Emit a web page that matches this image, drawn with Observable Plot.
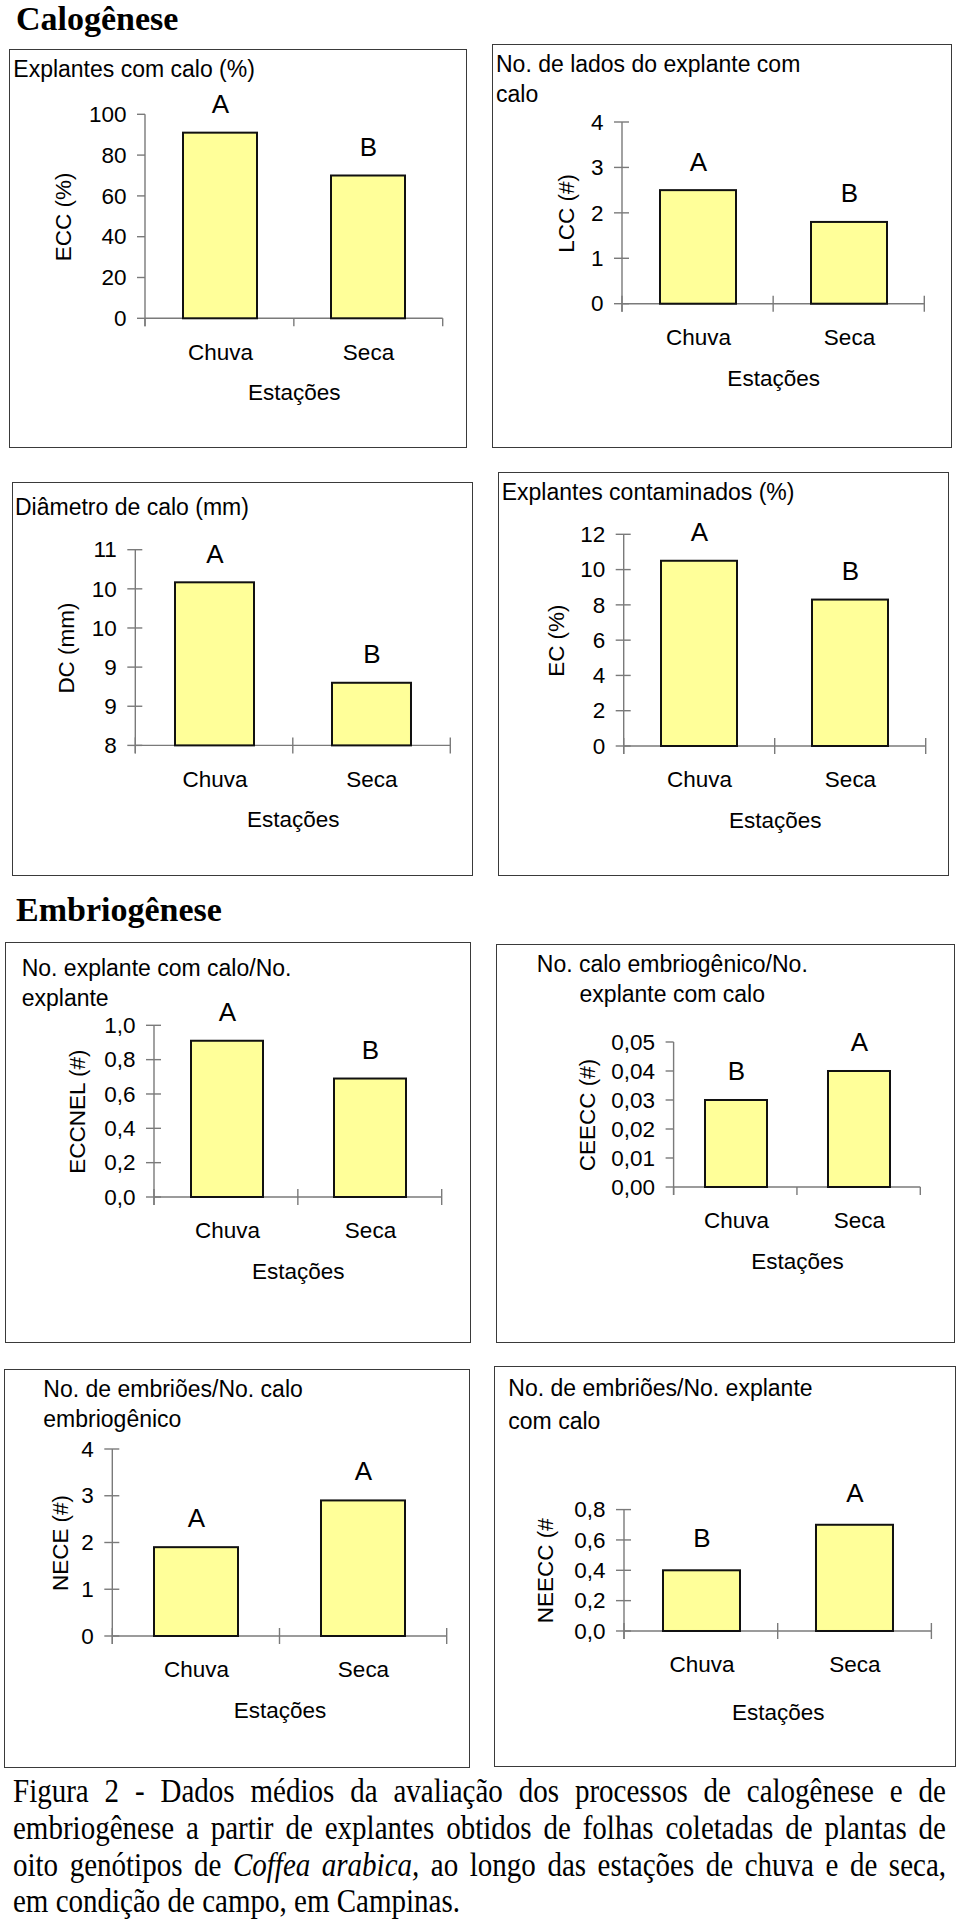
<!DOCTYPE html>
<html><head><meta charset="utf-8">
<script src="https://cdn.jsdelivr.net/npm/d3@7"></script>
<script src="https://cdn.jsdelivr.net/npm/@observablehq/plot@0.6"></script>
<style>
html,body{margin:0;padding:0;background:#fff;}
#page{position:relative;width:960px;height:1920px;overflow:hidden;background:#fff;font-family:'Liberation Sans',Arial,sans-serif;}
.heading{position:absolute;left:16px;font-family:'Liberation Serif','Times New Roman',serif;font-weight:bold;font-size:34px;line-height:38px;white-space:nowrap;color:#000;}
.panel{position:absolute;box-sizing:border-box;outline:1.5px solid #3a3a3a;outline-offset:-1.5px;}
.panel svg{position:absolute;left:0;top:0;}
.ptitle{position:absolute;font-size:23px;line-height:30px;white-space:nowrap;color:#000;}
#caption{position:absolute;left:13px;top:1772.7px;width:933px;font-family:'Liberation Serif','Times New Roman',serif;font-size:29px;line-height:32.3px;color:#000;transform:scaleY(1.13);transform-origin:0 0;}
#caption .ln{white-space:nowrap;text-align:justify;text-align-last:justify;}
#caption .ln.last{text-align:left;text-align-last:left;}
</style></head><body><div id="page"></div>
<script>
// ---------- data ----------
const seasons = ["Chuva", "Seca"];
const xLabel = "Estações";
const sectionTitles = ["Calogênese", "Embriogênese"];

const eccTitle = ["Explantes com calo (%)"];
const eccLabel = "ECC (%)";
const eccValues = [91, 70];
const eccLetters = ["A", "B"];
const eccTicks = [0, 20, 40, 60, 80, 100];
const eccTickLabels = ["0", "20", "40", "60", "80", "100"];

const lccTitle = ["No. de lados do explante com", "calo"];
const lccLabel = "LCC (#)";
const lccValues = [2.5, 1.8];
const lccLetters = ["A", "B"];
const lccTicks = [0, 1, 2, 3, 4];
const lccTickLabels = ["0", "1", "2", "3", "4"];

const dcTitle = ["Diâmetro de calo (mm)"];
const dcLabel = "DC (mm)";
const dcValues = [10.5, 8.96];
const dcLetters = ["A", "B"];
const dcTicks = [8, 8.6, 9.2, 9.8, 10.4, 11];
const dcTickLabels = ["8", "9", "9", "10", "10", "11"];

const ecTitle = ["Explantes contaminados (%)"];
const ecLabel = "EC (%)";
const ecValues = [10.5, 8.3];
const ecLetters = ["A", "B"];
const ecTicks = [0, 2, 4, 6, 8, 10, 12];
const ecTickLabels = ["0", "2", "4", "6", "8", "10", "12"];

const ecnTitle = ["No. explante com calo/No.", "explante"];
const ecnLabel = "ECCNEL (#)";
const ecnValues = [0.91, 0.69];
const ecnLetters = ["A", "B"];
const ecnTicks = [0, 0.2, 0.4, 0.6, 0.8, 1.0];
const ecnTickLabels = ["0,0", "0,2", "0,4", "0,6", "0,8", "1,0"];

const ceeTitle = ["No. calo embriogênico/No.", "explante com calo"];
const ceeLabel = "CEECC (#)";
const ceeValues = [0.03, 0.04];
const ceeLetters = ["B", "A"];
const ceeTicks = [0, 0.01, 0.02, 0.03, 0.04, 0.05];
const ceeTickLabels = ["0,00", "0,01", "0,02", "0,03", "0,04", "0,05"];

const neceTitle = ["No. de embriões/No. calo", "embriogênico"];
const neceLabel = "NECE (#)";
const neceValues = [1.9, 2.9];
const neceLetters = ["A", "A"];
const neceTicks = [0, 1, 2, 3, 4];
const neceTickLabels = ["0", "1", "2", "3", "4"];

const neeTitle = ["No. de embriões/No. explante", "com calo"];
const neeLabel = "NEECC (#";
const neeValues = [0.4, 0.7];
const neeLetters = ["B", "A"];
const neeTicks = [0, 0.2, 0.4, 0.6, 0.8];
const neeTickLabels = ["0,0", "0,2", "0,4", "0,6", "0,8"];

const captionLines = [
  "Figura 2 - Dados médios da avaliação dos processos de calogênese e de",
  "embriogênese a partir de explantes obtidos de folhas coletadas de plantas de",
  ["oito genótipos de ", "Coffea arabica,", " ao longo das estações de chuva e de seca,"],
  "em condição de campo, em Campinas."
];

// ---------- layout ----------
const panels = [
  {title: eccTitle, ylabel: eccLabel, values: eccValues, letters: eccLetters, ticks: eccTicks, tickLabels: eccTickLabels,
   box: [9, 49, 467, 448], frame: [145, 114.3, 442.7, 318.3], tl: {left: 4.3, top: 5}, yDist: 82, letterDy: -28.3, cross: false, xlOff: 0},
  {title: lccTitle, ylabel: lccLabel, values: lccValues, letters: lccLetters, ticks: lccTicks, tickLabels: lccTickLabels,
   box: [491.7, 44.3, 951.7, 448.3], frame: [621.7, 122.3, 924, 304], tl: {left: 4.3, top: 4.7}, yDist: 56.7, letterDy: -28.3, cross: true, xlOff: 0},
  {title: dcTitle, ylabel: dcLabel, values: dcValues, letters: dcLetters, ticks: dcTicks, tickLabels: dcTickLabels,
   box: [11.7, 482.3, 473.3, 876], frame: [135, 550, 450, 745.7], tl: {left: 3.3, top: 9.7}, yDist: 70, letterDy: -28.3, cross: true, xlOff: 0},
  {title: ecTitle, ylabel: ecLabel, values: ecValues, letters: ecLetters, ticks: ecTicks, tickLabels: ecTickLabels,
   box: [498.3, 471.7, 949.3, 876], frame: [624, 534, 926, 745.7], tl: {left: 3.4, top: 5.3}, yDist: 68, letterDy: -28.8, cross: true, xlOff: 0},
  {title: ecnTitle, ylabel: ecnLabel, values: ecnValues, letters: ecnLetters, ticks: ecnTicks, tickLabels: ecnTickLabels,
   box: [5, 941.7, 471, 1342.7], frame: [154, 1025, 441.7, 1196.7], tl: {left: 16.7, top: 12.6, lh: 29.4}, yDist: 77.3, letterDy: -28.6, cross: true, xlOff: 0},
  {title: ceeTitle, ylabel: ceeLabel, values: ceeValues, letters: ceeLetters, ticks: ceeTicks, tickLabels: ceeTickLabels,
   box: [495.7, 944.3, 955, 1342.7], frame: [673.3, 1042.3, 920, 1187.3], tl: {center: 176.6, top: 4.4}, yDist: 87.3, letterDy: -28.8, cross: false, xlOff: 0},
  {title: neceTitle, ylabel: neceLabel, values: neceValues, letters: neceLetters, ticks: neceTicks, tickLabels: neceTickLabels,
   box: [4, 1369, 470, 1768.3], frame: [112.3, 1449, 446.7, 1636], tl: {left: 39.3, top: 4.7}, yDist: 52.3, letterDy: -28.8, cross: true, xlOff: 0},
  {title: neeTitle, ylabel: neeLabel, values: neeValues, letters: neeLetters, ticks: neeTicks, tickLabels: neeTickLabels,
   box: [494.3, 1365.7, 956, 1766.7], frame: [624.3, 1509.3, 931.7, 1630.7], tl: {left: 14, top: 6.3, lh: 33.3}, yDist: 79.3, letterDy: -32, cross: true, xlOff: 7}
];

const page = document.getElementById("page");

// section headings
[[sectionTitles[0], 0], [sectionTitles[1], 891]].forEach(([t, top]) => {
  const h = document.createElement("div");
  h.className = "heading";
  h.style.top = top + "px";
  h.textContent = t;
  page.appendChild(h);
});

function drawPanel(cfg) {
  const [bl, bt, br, bb] = cfg.box;
  const [fl, ft, fr, fb] = cfg.frame;
  const W = br - bl, H = bb - bt;
  const data = seasons.map((s, i) => ({season: s, value: cfg.values[i], letter: cfg.letters[i]}));
  const y0 = cfg.ticks[0], y1 = cfg.ticks[cfg.ticks.length - 1];
  const fmt = new Map(cfg.ticks.map((t, i) => [t, cfg.tickLabels[i]]));

  const chart = Plot.plot({
    width: W, height: H,
    marginLeft: fl - bl, marginRight: br - fr, marginTop: ft - bt, marginBottom: bb - fb,
    style: {fontFamily: "'Liberation Sans', Arial, sans-serif", fontSize: "22px", color: "#000", background: "transparent", overflow: "visible"},
    x: {type: "band", domain: seasons, paddingInner: 0.5, paddingOuter: 0.25},
    y: {domain: [y0, y1], nice: false},
    marks: [
      Plot.barY(data, {x: "season", y1: () => y0, y2: "value", fill: "#ffff99", stroke: "#111", strokeWidth: 2}),
      Plot.text(data, {x: "season", y: "value", text: "letter", dy: cfg.letterDy, fontSize: 26, lineAnchor: "middle"}),
      Plot.axisY({ticks: cfg.ticks, tickFormat: d => fmt.get(d), tickSize: 0, tickPadding: 19, fontSize: 22.5,
                  label: cfg.ylabel, labelAnchor: "center", labelOffset: cfg.yDist + 8, labelArrow: "none"}),
      Plot.axisX({tickSize: 0, tickPadding: 25, fontSize: 22.5,
                  label: xLabel, labelAnchor: "center", labelOffset: 81.5 + cfg.xlOff, labelArrow: "none"})
    ]
  });

  // axis lines and Excel-style tick marks, positioned with the plot's own scales
  const sx = chart.scale("x"), sy = chart.scale("y");
  const g = d3.select(chart).insert("g", ":first-child")
    .attr("stroke", "#7a7a7a").attr("stroke-width", 1.4).attr("fill", "none");
  const axL = sx.range[0], axR = sx.range[1];
  const yBase = sy.apply(y0), yTop = sy.apply(y1);
  const tk = 8;
  g.append("line").attr("x1", axL).attr("x2", axL).attr("y1", yTop).attr("y2", yBase + tk);
  cfg.ticks.forEach(t => {
    const yy = sy.apply(t);
    g.append("line").attr("x1", axL - tk).attr("x2", axL + (cfg.cross ? 7 : 0)).attr("y1", yy).attr("y2", yy);
  });
  g.append("line").attr("x1", axL).attr("x2", axR).attr("y1", yBase).attr("y2", yBase);
  const n = seasons.length;
  for (let i = 0; i <= n; i++) {
    const xx = axL + i * (axR - axL) / n;
    g.append("line").attr("x1", xx).attr("x2", xx).attr("y1", yBase - (cfg.cross ? 8 : 0)).attr("y2", yBase + tk);
  }

  const div = document.createElement("div");
  div.className = "panel";
  div.style.left = bl + "px";
  div.style.top = bt + "px";
  div.style.width = W + "px";
  div.style.height = H + "px";
  div.appendChild(chart);

  const tdiv = document.createElement("div");
  tdiv.className = "ptitle";
  tdiv.style.top = cfg.tl.top + "px";
  if (cfg.tl.lh) tdiv.style.lineHeight = cfg.tl.lh + "px";
  if (cfg.tl.center !== undefined) {
    tdiv.style.left = "0px";
    tdiv.style.width = (2 * cfg.tl.center) + "px";
    tdiv.style.textAlign = "center";
  } else {
    tdiv.style.left = cfg.tl.left + "px";
  }
  tdiv.innerHTML = cfg.title.map(s => s.replace(/&/g, "&amp;").replace(/</g, "&lt;")).join("<br>");
  div.appendChild(tdiv);
  page.appendChild(div);
}

panels.forEach(drawPanel);

// caption
const cap = document.createElement("div");
cap.id = "caption";
captionLines.forEach((ln, i) => {
  const d = document.createElement("div");
  d.className = "ln" + (i === captionLines.length - 1 ? " last" : "");
  if (Array.isArray(ln)) {
    ln.forEach((part, j) => {
      if (j === 1) { const it = document.createElement("i"); it.textContent = part; d.appendChild(it); }
      else d.appendChild(document.createTextNode(part));
    });
  } else d.textContent = ln;
  cap.appendChild(d);
});
page.appendChild(cap);
</script></body></html>
